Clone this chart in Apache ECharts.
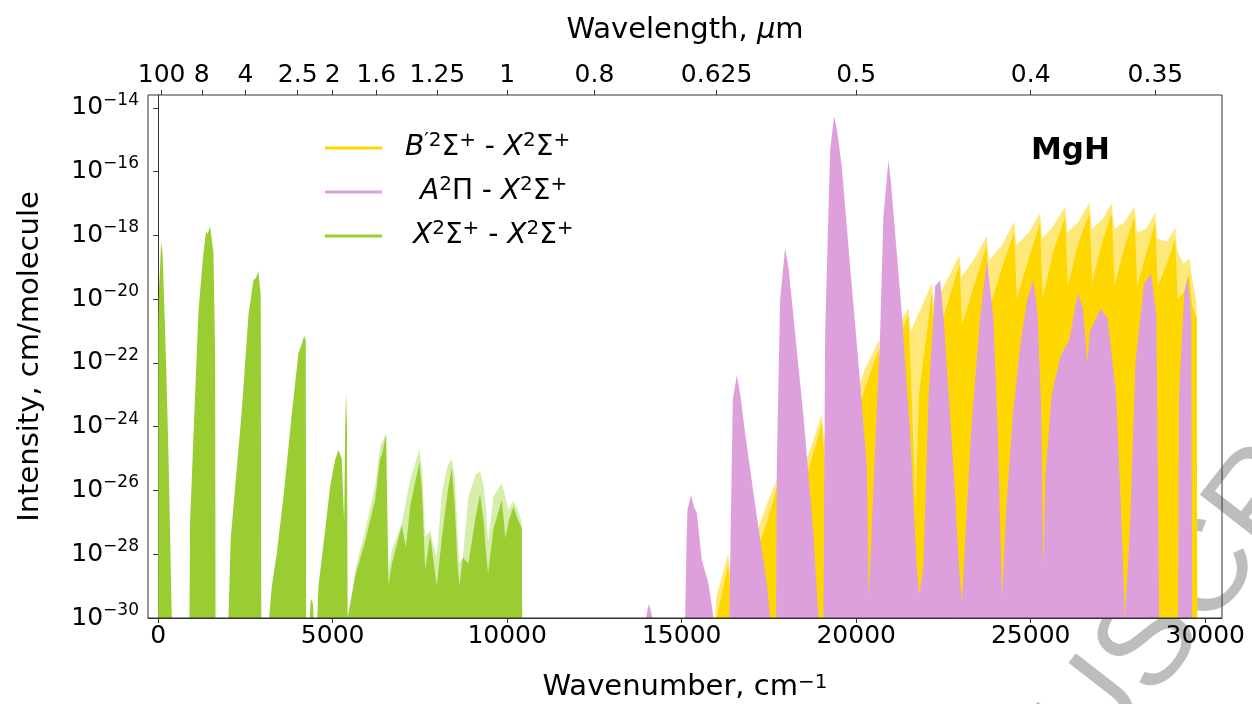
<!DOCTYPE html>
<html>
<head>
<meta charset="utf-8">
<script src="https://cdn.jsdelivr.net/npm/echarts@6/dist/echarts.min.js"></script>
<style>
html,body{margin:0;padding:0;background:#fff;}
#chart{width:1252px;height:704px;}
</style>
</head>
<body>
<div id="chart"></div>
<script>
// ---------------- DATA (wavenumber cm^-1, log10 intensity cm/molecule) ----------------
const seriesNames = ['B′²Σ⁺ - X²Σ⁺', 'A²Π - X²Σ⁺', 'X²Σ⁺ - X²Σ⁺'];

// B'2Sigma+ - X2Sigma+ : outer (light) envelope
const bxOuter = [[15950,-30],[16000,-29.3],[16200,-28.5],[16332,-27.97],[16390,-28.6],[16700,-27.4],[17100,-26.6],[17160,-27.3],[17450,-26.4],[17725,-25.67],[17790,-26.4],[18100,-25.4],[18400,-24.6],[18460,-25.4],[18750,-24.5],[19015,-23.6],[19080,-24.4],[19450,-23.3],[19830,-22.5],[19890,-23.3],[20250,-22.2],[20637,-21.3],[20700,-22.0],[21100,-21.0],[21497,-20.29],[21560,-21.0],[21850,-20.3],[22166,-19.5],[22230,-20.2],[22600,-19.4],[22958,-18.61],[23020,-19.3],[23400,-18.7],[23740,-18.02],[23800,-18.8],[24180,-18.3],[24524,-17.57],[24590,-18.3],[24950,-17.9],[25269,-17.3],[25330,-18.1],[25650,-17.7],[25986,-17.10],[26050,-17.9],[26350,-17.6],[26683,-16.97],[26750,-17.8],[27050,-17.5],[27324,-16.99],[27390,-17.8],[27680,-17.6],[27972,-17.10],[28040,-17.9],[28300,-17.8],[28565,-17.30],[28630,-18.1],[28900,-18.2],[29138,-17.77],[29200,-18.5],[29380,-18.9],[29547,-18.72],[29620,-19.3],[29758,-20.2],[29770,-30]];
// B'2Sigma+ - X2Sigma+ : dense (solid) core
const bxCore = [[16000,-30],[16200,-29.0],[16332,-28.3],[16400,-29.3],[16700,-28.0],[17100,-26.9],[17170,-27.8],[17450,-27.0],[17725,-25.9],[17800,-26.9],[18100,-25.8],[18400,-24.9],[18470,-26.0],[18750,-24.9],[19015,-23.9],[19090,-25.0],[19450,-23.8],[19830,-22.8],[19900,-24.0],[20250,-22.8],[20637,-21.6],[20710,-23.0],[21100,-21.5],[21497,-20.5],[21570,-22.5],[21700,-26.5],[21800,-23.0],[22166,-19.8],[22240,-21.5],[22600,-20.2],[22958,-18.9],[23030,-20.8],[23400,-19.5],[23740,-18.3],[23810,-20.3],[24180,-19.0],[24524,-17.9],[24600,-20.0],[24950,-18.7],[25269,-17.6],[25340,-20.0],[25650,-18.5],[25986,-17.4],[26060,-19.6],[26350,-18.3],[26683,-17.3],[26760,-19.5],[27050,-18.2],[27324,-17.3],[27400,-19.6],[27680,-18.4],[27972,-17.4],[28050,-19.6],[28300,-18.6],[28565,-17.6],[28640,-19.6],[28900,-18.9],[29138,-18.1],[29210,-20.0],[29380,-19.8],[29547,-19.2],[29620,-20.2],[29758,-20.6],[29770,-30]];

// A2Pi - X2Sigma+
const axBand = [[13980,-30],[14030,-29.7],[14067,-29.55],[14120,-29.8],[14160,-30],
 [15100,-30],[15140,-27.5],[15165,-26.6],[15270,-26.14],[15350,-26.5],[15433,-26.7],[15576,-28.18],[15767,-28.91],[15900,-29.9],[15910,-30],
 [16368,-30],[16387,-28.39],[16464,-23.16],[16580,-22.38],[16680,-23.0],[16817,-24.21],[17152,-26.82],[17439,-28.91],[17534,-30],
 [17706,-30],[17725,-25.25],[17820,-20.02],[17964,-18.40],[18060,-19.0],[18202,-20.55],[18489,-23.68],[18775,-27.34],[18918,-30],
 [19061,-30],[19110,-21.06],[19253,-15.32],[19367,-14.27],[19450,-14.7],[19587,-15.84],[19826,-18.98],[20113,-22.63],[20304,-25.25],[20360,-29.4],[20450,-27.0],
 [20685,-21.06],[20780,-17.41],[20924,-15.63],[21000,-16.4],[21115,-17.93],[21306,-20.44],[21545,-24.2],[21736,-28.4],[21800,-29.3],[21925,-28.4],[22068,-23.2],[22260,-19.6],[22404,-19.4],[22500,-20.5],[22596,-22.1],[22800,-25.5],[22950,-28.5],[23030,-29.5],[23100,-28.0],[23300,-24.0],[23550,-20.6],[23740,-18.77],[23850,-19.8],[23930,-20.55],[24050,-24.0],[24180,-29.4],[24300,-26.5],[24500,-23.5],[24695,-21.5],[24900,-20.0],[25077,-19.4],[25200,-20.5],[25300,-23.5],[25364,-28.5],[25420,-25.5],[25600,-23.0],[25850,-21.8],[26100,-21.3],[26350,-19.8],[26500,-20.3],[26620,-22.0],[26700,-21.0],[27000,-20.3],[27200,-20.6],[27450,-23.0],[27600,-27.0],[27700,-30],[27850,-27.0],[28000,-22.0],[28250,-19.5],[28450,-19.2],[28600,-20.5],[28680,-30],[29220,-30],[29250,-23.0],[29400,-19.8],[29500,-19.3],[29600,-20.5],[29625,-30]];

// X2Sigma+ - X2Sigma+ : solid core
const xxCore = [[0,-30],[5,-21],[20,-19.9],[86,-18.2],[130,-18.6],[220,-21.7],[296,-24.8],[372,-29.0],[392,-30],
 [898,-30],[915,-27],[1012,-24.3],[1155,-20.4],[1298,-18.55],[1375,-17.88],[1420,-17.95],[1490,-17.72],[1585,-18.55],[1633,-21.7],[1645,-30],
 [2015,-30],[2080,-27.5],[2397,-23.5],[2588,-20.5],[2731,-19.40],[2800,-19.35],[2874,-19.13],[2940,-19.9],[2955,-30],
 [3180,-30],[3257,-29.0],[3400,-27.97],[3591,-26.2],[3830,-23.6],[4020,-21.7],[4120,-21.4],[4183,-21.15],[4230,-21.3],[4240,-30],
 [4340,-30],[4370,-29.5],[4400,-29.4],[4440,-29.6],[4455,-30],
 [4560,-30],[4594,-29.0],[4785,-27.24],[4928,-25.88],[5071,-25.04],[5166,-24.73],[5261,-25.0],[5330,-27],[5360,-24],[5386,-22.9],[5410,-24],[5430,-30],
 [5472,-30],[5644,-28.7],[5930,-27.6],[6217,-26.3],[6360,-25.0],[6409,-24.9],[6532,-24.23],[6560,-26.5],[6599,-29.0],[6695,-28.3],[6981,-27.1],[7100,-27.8],[7220,-26.5],[7487,-25.1],[7560,-26.0],[7650,-28.5],[7793,-27.4],[7900,-28.3],[7984,-29.0],[8128,-27.5],[8300,-26.0],[8414,-25.3],[8500,-26.5],[8576,-28.3],[8632,-29.0],[8730,-28.1],[8891,-28.3],[9100,-26.8],[9225,-26.1],[9330,-27.0],[9397,-28.0],[9454,-28.6],[9608,-27.2],[9847,-26.3],[9950,-27.5],[10037,-27.0],[10180,-26.5],[10300,-26.9],[10420,-27.2],[10430,-30]];
// X2Sigma+ - X2Sigma+ : outer (light) envelope of the overtone region
const xxOuter = [[5472,-30],[5644,-28.5],[5930,-27.24],[6217,-25.88],[6360,-24.62],[6409,-24.57],[6532,-24.23],[6560,-26],[6599,-28.5],[6695,-27.87],[6981,-27.03],[7220,-25.67],[7487,-24.71],[7560,-25.3],[7650,-27.45],[7793,-27.26],[7900,-27.8],[7984,-28.07],[8128,-26.08],[8300,-25.2],[8414,-25.01],[8500,-25.6],[8576,-27.24],[8632,-28.3],[8730,-28.1],[8891,-26.19],[9100,-25.5],[9225,-25.38],[9330,-25.9],[9397,-26.61],[9454,-27.6],[9608,-26.19],[9847,-25.77],[9950,-26.2],[10037,-26.61],[10180,-26.33],[10300,-26.6],[10420,-27.0],[10430,-30]];

// axis ticks
const wnTicks = [0, 5000, 10000, 15000, 20000, 25000, 30000];
const wlTicks = [100, 8, 4, 2.5, 2, 1.6, 1.25, 1, 0.8, 0.625, 0.5, 0.4, 0.35]; // micrometres
const logTicks = [-30, -28, -26, -24, -22, -20, -18, -16, -14];

// ---------------- CHART ----------------
const FONT = 'DejaVu Sans';
const xMin = -290, xMax = 30480, yMin = -30, yMax = -13.6;
const wlPos = wlTicks.map(l => 1e4 / l);

const chart = echarts.init(document.getElementById('chart'), null, {renderer: 'canvas'});

const TICK = 25;
const tickSup = {fontSize: 17, fontFamily: FONT, lineHeight: 15, verticalAlign: 'top', color: '#000'};
const tickBase = {fontSize: TICK, fontFamily: FONT, lineHeight: 32, color: '#000'};
const LEG = 28;
const legSup = {fontSize: 20, fontFamily: FONT, lineHeight: 16, verticalAlign: 'top', color: '#000'};
const legBase = {fontSize: LEG, fontFamily: FONT, lineHeight: 34, color: '#000'};
const legItal = {fontSize: LEG, fontFamily: FONT, fontStyle: 'italic', lineHeight: 34, color: '#000'};
const legPadA = {fontSize: LEG, lineHeight: 34, width: 15};
const legPadX = {fontSize: LEG, lineHeight: 34, width: 8};

const legendRich = {
  [seriesNames[0]]: '{i|B}{s|′2}{n|Σ}{s|+}{n| - }{i|X}{s|2}{n|Σ}{s|+}',
  [seriesNames[1]]: '{pa| }{i|A}{s|2}{n|Π - }{i|X}{s|2}{n|Σ}{s|+}',
  [seriesNames[2]]: '{px| }{i|X}{s|2}{n|Σ}{s|+}{n| - }{i|X}{s|2}{n|Σ}{s|+}'
};

function area(name, data, color, z) {
  return {
    name: name, type: 'line', data: data, showSymbol: false, symbol: 'none',
    silent: true, z: z, animation: false,
    color: color, itemStyle: {color: color},
    lineStyle: {width: 0, color: color},
    areaStyle: {color: color, opacity: 1, origin: 'start'}
  };
}

chart.setOption({
  animation: false,
  backgroundColor: '#fff',
  grid: {left: 148, right: 30, top: 95, bottom: 86, show: true, borderColor: '#333', borderWidth: 1, backgroundColor: 'transparent', z: 6, containLabel: false, outerBoundsMode: 'none'},
  legend: {
    data: seriesNames,
    left: 320, top: 126, orient: 'vertical', itemGap: 13,
    icon: 'rect', itemWidth: 57, itemHeight: 3,
    selectedMode: false,
    formatter: n => legendRich[n],
    textStyle: {padding: [0, 0, 0, 18], rich: {n: legBase, i: legItal, s: legSup, pa: legPadA, px: legPadX}}
  },
  xAxis: [{
    type: 'value', position: 'bottom', min: xMin, max: xMax,
    name: 'Wavenumber, cm{s|−1}', nameLocation: 'middle', nameGap: 55,
    nameTextStyle: {fontSize: 29, fontFamily: FONT, color: '#000', rich: {s: {fontSize: 20, fontFamily: FONT, verticalAlign: 'top', lineHeight: 12, color: '#000'}}},
    splitLine: {show: false},
    axisLine: {show: true, lineStyle: {color: '#333', width: 1}},
    axisTick: {show: true, length: 5, customValues: wnTicks, lineStyle: {color: '#333'}},
    axisLabel: {customValues: wnTicks, fontSize: TICK, fontFamily: FONT, color: '#000', margin: 6, formatter: v => String(Math.round(v))}
  }, {
    type: 'value', position: 'top', min: xMin, max: xMax,
    name: 'Wavelength, {i|μ}m', nameLocation: 'middle', nameGap: 50,
    nameTextStyle: {fontSize: 29, fontFamily: FONT, color: '#000', rich: {i: {fontSize: 29, fontFamily: FONT, fontStyle: 'italic', color: '#000'}}},
    splitLine: {show: false},
    axisLine: {show: false},
    axisTick: {show: true, length: 5, customValues: wlPos, lineStyle: {color: '#333'}},
    axisLabel: {
      customValues: wlPos, fontSize: TICK, fontFamily: FONT, color: '#000', margin: 7,
      formatter: v => {
        let best = 0, d = Infinity;
        wlPos.forEach((p, k) => { if (Math.abs(p - v) < d) { d = Math.abs(p - v); best = k; } });
        return String(wlTicks[best]);
      }
    }
  }],
  yAxis: [{
    type: 'value', min: yMin, max: yMax,
    name: 'Intensity, cm/molecule', nameLocation: 'middle', nameGap: 103,
    nameTextStyle: {fontSize: 29, fontFamily: FONT, color: '#000'},
    splitLine: {show: false},
    axisLine: {show: true, lineStyle: {color: '#333', width: 1}},
    axisTick: {show: true, length: 5, customValues: logTicks, lineStyle: {color: '#333'}},
    axisLabel: {
      customValues: logTicks, margin: 9,
      formatter: v => '{b|10}{s|−' + Math.round(-v) + '}',
      rich: {b: tickBase, s: tickSup}
    }
  }],
  graphic: [{
    type: 'text', x: 940, y: 1020, rotation: 0.908, z: -10, silent: true,
    style: {text: 'MANUSCRIPT', fontSize: 130, fontFamily: 'Liberation Sans', fill: '#bdbdbd', textAlign: 'left', textVerticalAlign: 'bottom'}
  }, {
    type: 'text', left: 1031, top: 135, silent: true,
    style: {text: 'MgH', fontSize: 31, fontWeight: 'bold', fontFamily: FONT, fill: '#000'}
  }],
  series: [
    area('_bx_light', bxOuter, '#FFE87A', 1),
    area(seriesNames[0], bxCore, '#FFD700', 2),
    area(seriesNames[1], axBand, '#DDA0DD', 3),
    area('_xx_light', xxOuter, '#D7EDAB', 4),
    area(seriesNames[2], xxCore, '#9ACD32', 5)
  ]
});
</script>
</body>
</html>
